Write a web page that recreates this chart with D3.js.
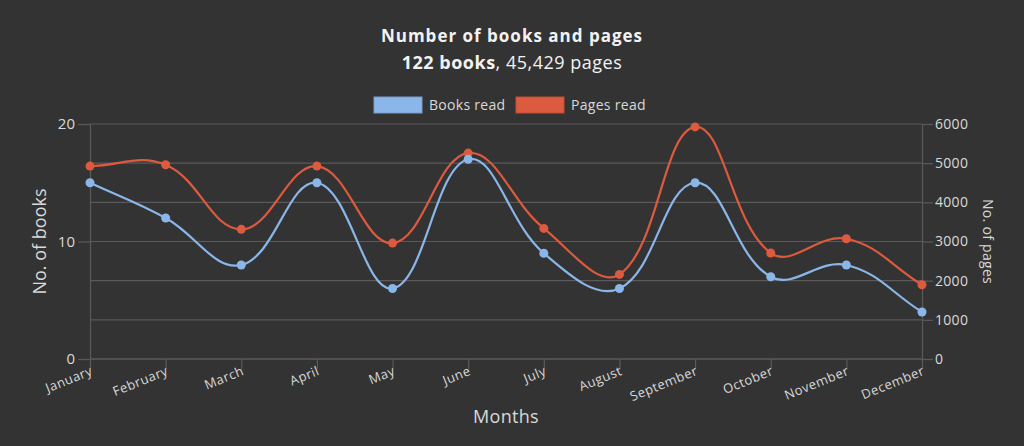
<!DOCTYPE html>
<html><head><meta charset="utf-8">
<script src="https://cdn.jsdelivr.net/npm/d3@7"></script>
<style>
html,body{margin:0;padding:0;background:#333333;}
svg{display:block;}
text{font-family:"Open Sans",sans-serif;}
</style></head>
<body>
<svg id="chart" width="1024" height="446"></svg>
<script>
const months = ["January","February","March","April","May","June","July","August","September","October","November","December"];
const booksRead = [15,12,8,15,6,17,9,6,15,7,8,4];
const pagesRead = [4925,4960,3310,4925,2960,5258,3335,2160,5926,2705,3070,1895];
const bookTicks = [0,10,20];
const pageTicks = [0,1000,2000,3000,4000,5000,6000];
const seriesNames = ["Books read","Pages read"];
const titleText = "Number of books and pages";
const subtitleBold = "122 books";
const subtitleRest = ", 45,429 pages";

(function(){
const W = 1024, H = 446;
const pl = 90, pr = 922, pt = 124, pb = 359;
const blue = "#8ab6e9", red = "#dc5a3e";
const textCol = "#d9d9d9", gridCol = "#5a5a5a";

const svg = d3.select("#chart");
svg.append("rect").attr("width",W).attr("height",H).attr("fill","#333333");

const x = d3.scalePoint().domain(months).range([pl,pr]);
const yB = d3.scaleLinear().domain([0,20]).range([pb,pt]);
const yP = d3.scaleLinear().domain([0,6000]).range([pb,pt]);

svg.append("g").selectAll("line").data(pageTicks).join("line")
  .attr("x1",pl).attr("x2",pr)
  .attr("y1",d=>yP(d)).attr("y2",d=>yP(d))
  .attr("stroke",gridCol).attr("stroke-width",1.2);

const gl = svg.append("g").attr("transform",`translate(${pl},0)`)
  .call(d3.axisLeft(yB).tickValues(bookTicks).tickSize(12).tickPadding(3));
const gr = svg.append("g").attr("transform",`translate(${pr},0)`)
  .call(d3.axisRight(yP).tickValues(pageTicks).tickFormat(d3.format("d")).tickSize(11).tickPadding(2));
const gx = svg.append("g").attr("transform",`translate(0,${pb})`)
  .call(d3.axisBottom(x).tickSize(10).tickPadding(2));

[gl,gr,gx].forEach(g=>{
  g.select(".domain").attr("stroke",gridCol).attr("stroke-width",1.2);
  g.selectAll(".tick line").attr("stroke",gridCol).attr("stroke-width",1.2);
  g.selectAll(".tick text").attr("fill",textCol).style("font-family","'Open Sans',sans-serif");
});
gl.selectAll(".tick text").style("font-size","15px");
gr.selectAll(".tick text").style("font-size","14px").style("letter-spacing","0.3px");
gx.select(".domain").attr("d",`M${pl},0H${pr}`);
gx.selectAll(".tick text").style("font-size","13px").style("letter-spacing","0.5px")
  .attr("text-anchor","end").attr("dy","0.2em").attr("dx","0")
  .attr("transform","translate(2,13) rotate(-22)").attr("y",0);

function splinePath(pts, t){
  const p = d3.path();
  const cps = pts.map((c,i)=>{
    const prev = pts[Math.max(0,i-1)], next = pts[Math.min(pts.length-1,i+1)];
    const d01 = Math.hypot(c[0]-prev[0], c[1]-prev[1]);
    const d12 = Math.hypot(next[0]-c[0], next[1]-c[1]);
    let s01 = d01/(d01+d12), s12 = d12/(d01+d12);
    if (isNaN(s01)) s01 = 0; if (isNaN(s12)) s12 = 0;
    const fa = t*s01, fb = t*s12;
    return {
      prev:[c[0]-fa*(next[0]-prev[0]), c[1]-fa*(next[1]-prev[1])],
      next:[c[0]+fb*(next[0]-prev[0]), c[1]+fb*(next[1]-prev[1])]
    };
  });
  p.moveTo(pts[0][0],pts[0][1]);
  for(let i=1;i<pts.length;i++){
    p.bezierCurveTo(cps[i-1].next[0],cps[i-1].next[1],cps[i].prev[0],cps[i].prev[1],pts[i][0],pts[i][1]);
  }
  return p.toString();
}

const series = [
  {vals:pagesRead, y:yP, col:red},
  {vals:booksRead, y:yB, col:blue}
];
series.forEach(s=>{
  const pts = s.vals.map((v,i)=>[x(months[i]), s.y(v)]);
  svg.append("path").attr("d",splinePath(pts,0.4))
    .attr("fill","none").attr("stroke",s.col).attr("stroke-width",2.2);
  svg.append("g").selectAll("circle").data(s.vals).join("circle")
    .attr("cx",(d,i)=>x(months[i])).attr("cy",d=>s.y(d)).attr("r",4.5)
    .attr("fill",s.col);
});

svg.append("text").attr("transform",`translate(46,${(pt+pb)/2}) rotate(-90)`)
  .attr("text-anchor","middle").attr("fill",textCol).style("font-size","18px").text("No. of books");
svg.append("text").attr("transform",`translate(983,${(pt+pb)/2}) rotate(90)`)
  .attr("text-anchor","middle").attr("fill",textCol).style("font-size","14px").style("letter-spacing","0.3px").text("No. of pages");
svg.append("text").attr("x",(pl+pr)/2).attr("y",423)
  .attr("text-anchor","middle").attr("fill",textCol).style("font-size","18px").style("letter-spacing","0.3px").text("Months");

svg.append("text").attr("x",512).attr("y",42).attr("text-anchor","middle")
  .attr("fill","#f2f2f2").style("font-size","17px").style("letter-spacing","1px").style("font-weight","bold").text(titleText);
const sub = svg.append("text").attr("x",512).attr("y",69).attr("text-anchor","middle")
  .attr("fill","#f2f2f2").style("font-size","18px").style("letter-spacing","0.5px");
sub.append("tspan").style("font-weight","bold").text(subtitleBold);
sub.append("tspan").text(subtitleRest);

const legend = svg.append("g");
const legItems = [{name:seriesNames[0],col:blue,x:374},{name:seriesNames[1],col:red,x:516}];
legItems.forEach(l=>{
  legend.append("rect").attr("x",l.x).attr("y",97).attr("width",48).attr("height",16)
    .attr("fill",l.col).attr("stroke",d3.color(l.col).darker(0.4)).attr("stroke-width",1);
  legend.append("text").attr("x",l.x+55).attr("y",110).attr("fill",textCol)
    .style("font-size","14px").style("letter-spacing","0.3px").text(l.name);
});
})();
</script>
</body></html>
